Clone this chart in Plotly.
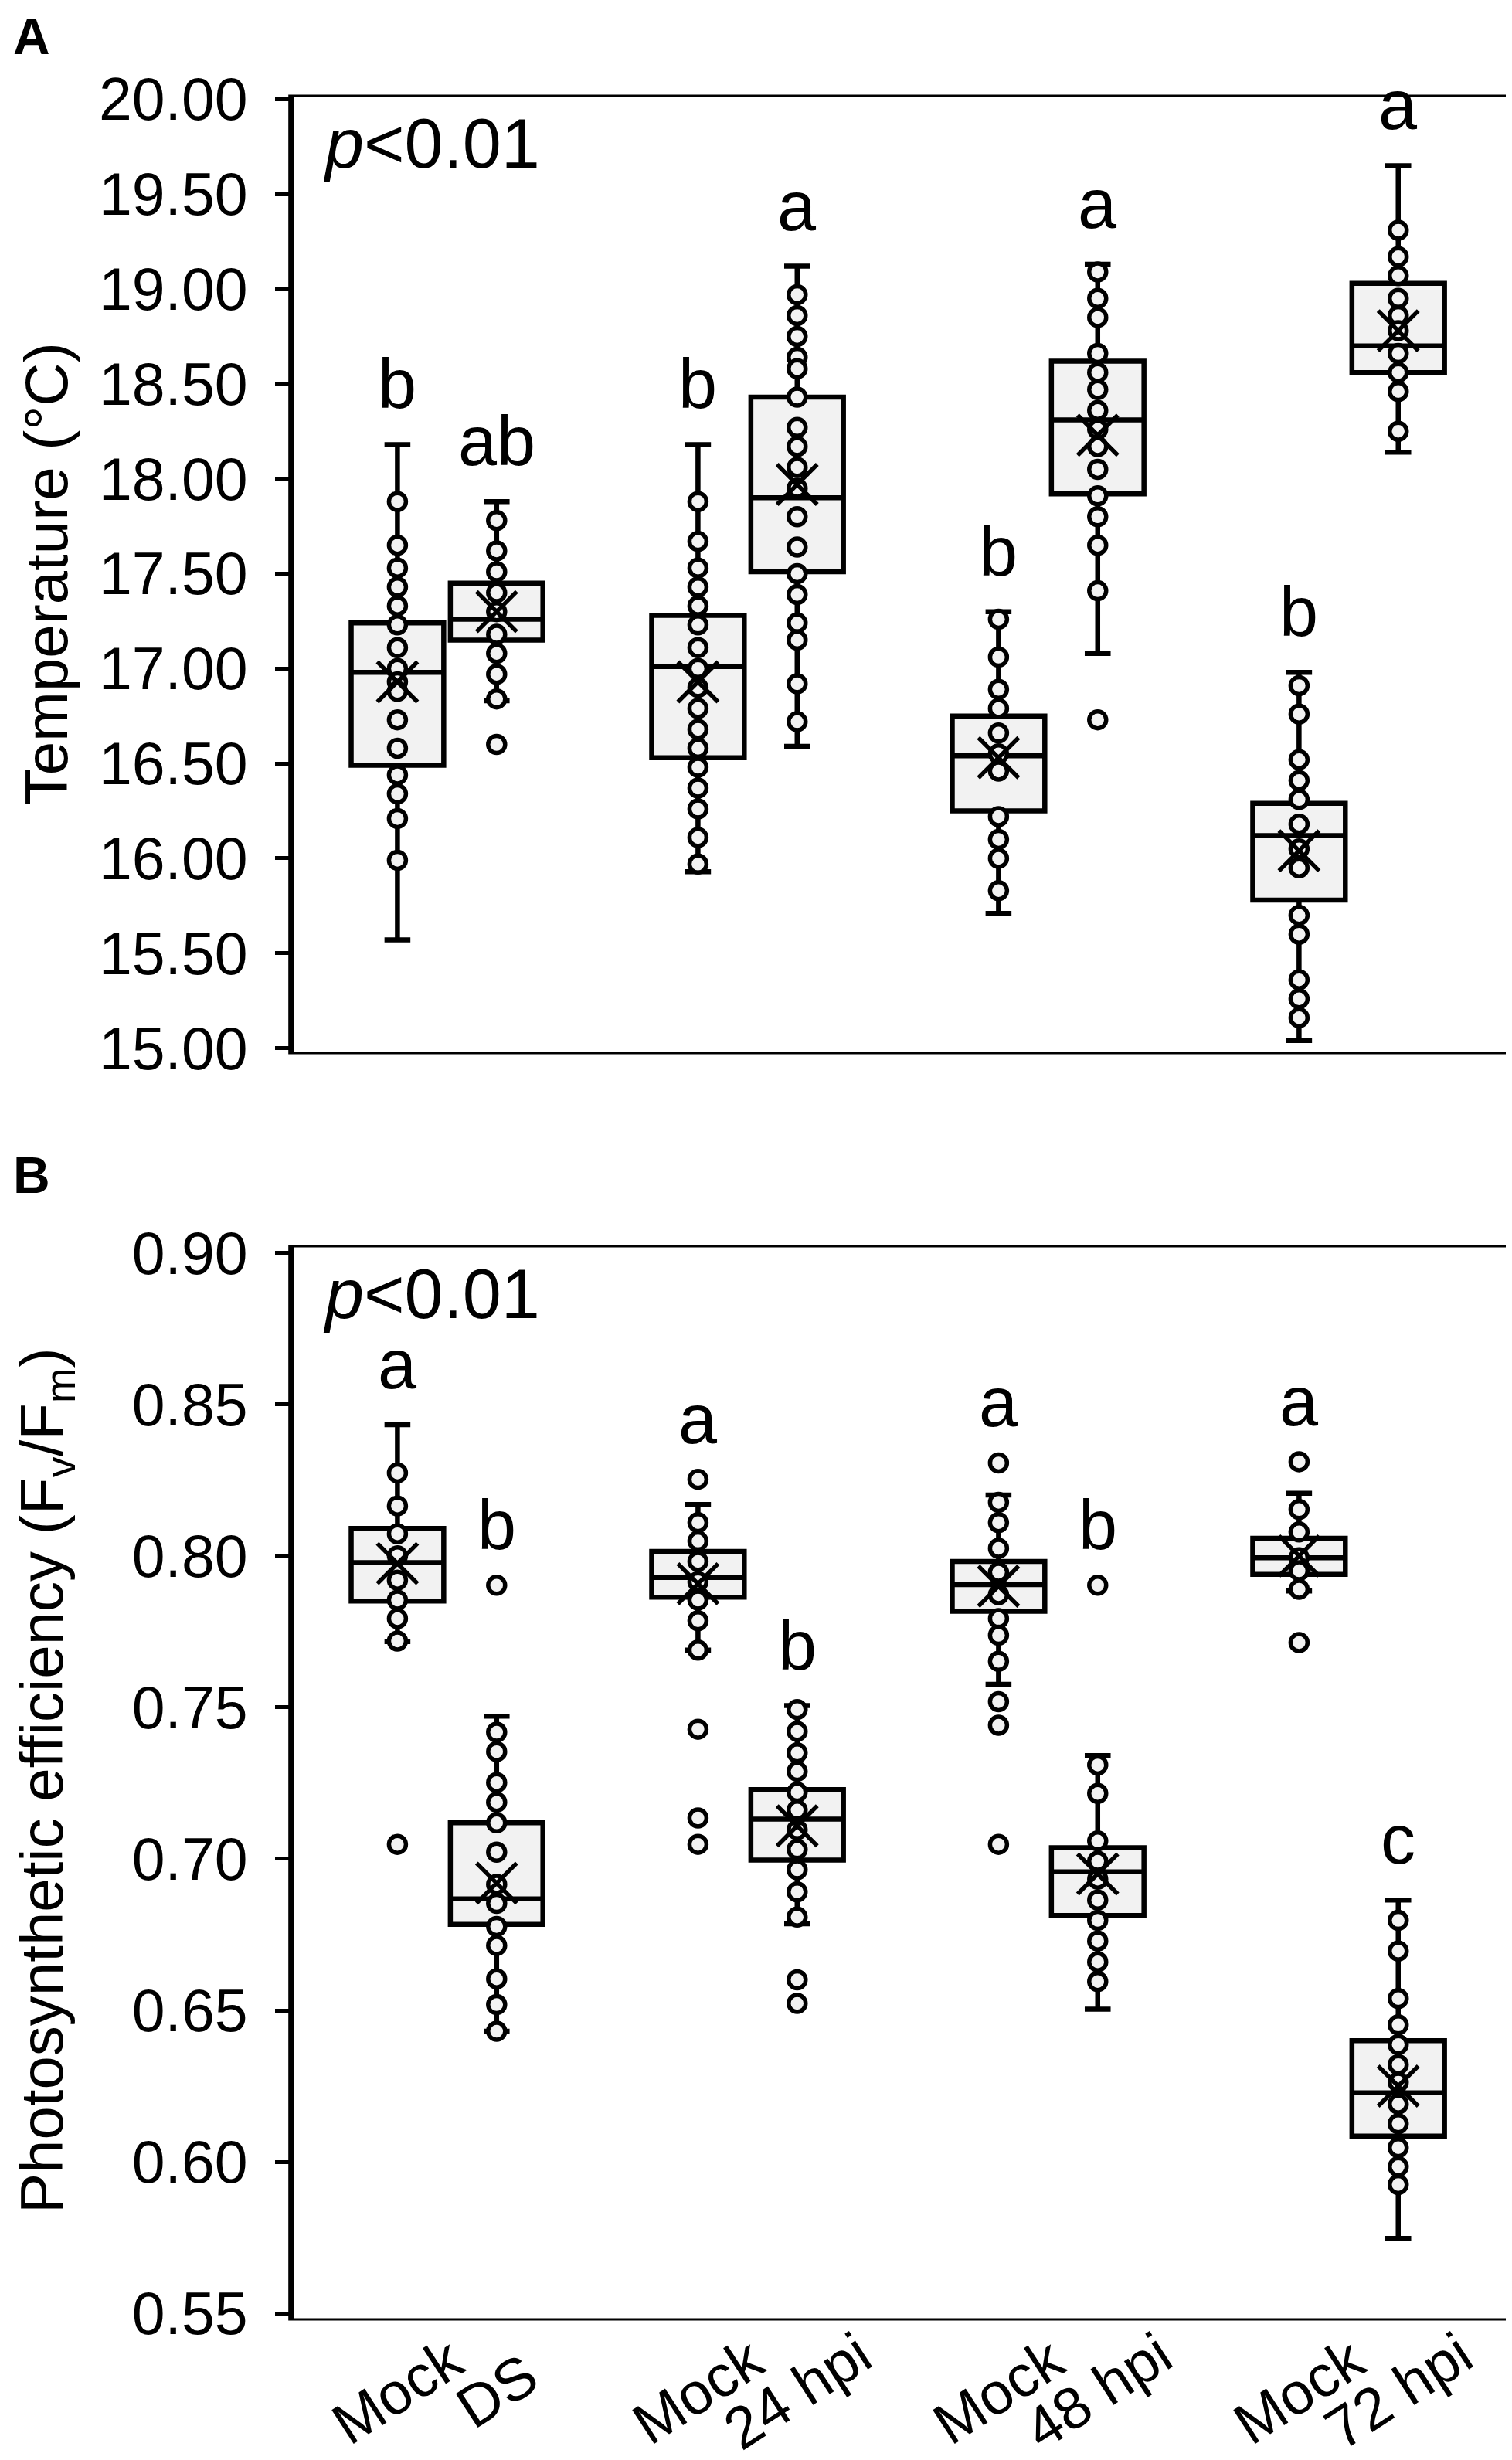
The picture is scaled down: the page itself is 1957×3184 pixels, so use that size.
import plotly.graph_objects as go

# ---------------------------
# Daten
# ---------------------------
groups = ["Mock", "DS", "Mock", "24 hpi", "Mock", "48 hpi", "Mock", "72 hpi"]
positions = [0.84, 1.17, 1.84, 2.17, 2.84, 3.17, 3.84, 4.17]

# Panel A: Temperatur (°C)
temp_points = [
    [17.88, 17.65, 17.53, 17.43, 17.33, 17.23, 17.11, 17.00, 16.93, 16.88, 16.73, 16.58, 16.44, 16.34, 16.21, 15.99],
    [17.78, 17.62, 17.51, 17.40, 17.30, 17.18, 17.08, 16.97, 16.84, 16.60],
    [17.88, 17.67, 17.53, 17.43, 17.33, 17.23, 17.11, 17.00, 16.90, 16.79, 16.68, 16.58, 16.48, 16.37, 16.26, 16.11, 15.97],
    [18.97, 18.86, 18.75, 18.64, 18.58, 18.43, 18.27, 18.17, 18.06, 17.95, 17.80, 17.64, 17.50, 17.39, 17.24, 17.15, 16.92, 16.72],
    [17.26, 17.06, 16.89, 16.79, 16.66, 16.55, 16.46, 16.22, 16.10, 16.00, 15.83],
    [19.09, 18.95, 18.85, 18.66, 18.56, 18.47, 18.36, 18.26, 18.17, 18.05, 17.91, 17.80, 17.65, 17.41, 16.73],
    [16.91, 16.76, 16.52, 16.41, 16.31, 16.18, 16.05, 15.95, 15.70, 15.60, 15.36, 15.26, 15.16],
    [19.31, 19.17, 19.07, 18.95, 18.86, 18.78, 18.66, 18.56, 18.46, 18.25],
]
temp_low = [15.57, 16.83, 15.93, 16.59, 15.71, 17.08, 15.04, 18.14]
temp_q1 = [16.49, 17.15, 16.53, 17.51, 16.25, 17.92, 15.78, 18.56]
temp_median = [16.98, 17.26, 17.01, 17.90, 16.54, 18.31, 16.12, 18.70]
temp_q3 = [17.24, 17.45, 17.28, 18.43, 16.75, 18.62, 16.29, 19.03]
temp_high = [18.18, 17.88, 18.18, 19.12, 17.30, 19.13, 16.98, 19.65]
temp_mean = [16.93, 17.30, 16.93, 17.97, 16.53, 18.23, 16.04, 18.78]
temp_letters = ["b", "ab", "b", "a", "b", "a", "b", "a"]

# Panel B: Fv/Fm
fvfm_points = [
    [0.8274, 0.8165, 0.8073, 0.8000, 0.7920, 0.7854, 0.7793, 0.7719, 0.7048],
    [0.7903, 0.7418, 0.7354, 0.7252, 0.7187, 0.7119, 0.7022, 0.6916, 0.6853, 0.6777, 0.6714, 0.6604, 0.6519, 0.6431],
    [0.8253, 0.8110, 0.8049, 0.7982, 0.7915, 0.7854, 0.7786, 0.7689, 0.7428, 0.7135, 0.7048],
    [0.7493, 0.7421, 0.7350, 0.7289, 0.7220, 0.7161, 0.7096, 0.7031, 0.6964, 0.6891, 0.6808, 0.6601, 0.6523],
    [0.8307, 0.8177, 0.8110, 0.8025, 0.7946, 0.7872, 0.7793, 0.7738, 0.7652, 0.7519, 0.7441, 0.7048],
    [0.7903, 0.7310, 0.7216, 0.7059, 0.6992, 0.6933, 0.6864, 0.6797, 0.6729, 0.6660, 0.6595],
    [0.8311, 0.8153, 0.8079, 0.7994, 0.7951, 0.7890, 0.7714],
    [0.6797, 0.6696, 0.6539, 0.6452, 0.6387, 0.6321, 0.6263, 0.6191, 0.6126, 0.6047, 0.5984, 0.5925],
]
fvfm_low = [0.7717, 0.6431, 0.7689, 0.6786, 0.7576, 0.6504, 0.7884, 0.5747]
fvfm_q1 = [0.7851, 0.6784, 0.7864, 0.6996, 0.7817, 0.6813, 0.7939, 0.6085]
fvfm_median = [0.7978, 0.6868, 0.7929, 0.7131, 0.7905, 0.6957, 0.7994, 0.6228]
fvfm_q3 = [0.8091, 0.7119, 0.8015, 0.7229, 0.7982, 0.7037, 0.8058, 0.6400]
fvfm_high = [0.8433, 0.7471, 0.8170, 0.7506, 0.8201, 0.7341, 0.8207, 0.6864]
fvfm_mean = [0.7975, 0.6920, 0.7908, 0.7109, 0.7900, 0.6950, 0.8000, 0.6250]
fvfm_letters = ["a", "b", "a", "b", "a", "b", "a", "c"]

FONT = "Liberation Sans, Arial, sans-serif"
FILL = "#f2f2f2"


def add_panel(fig, xa, ya, points, low, q1, med, q3, high, mean, letters):
    fig.add_trace(go.Box(
        x=positions, q1=q1, median=med, q3=q3, lowerfence=low, upperfence=high,
        width=0.308, whiskerwidth=0.28, fillcolor=FILL,
        line=dict(color="black", width=6.5), boxpoints=False,
        showlegend=False, xaxis=xa, yaxis=ya, hoverinfo="skip"))
    xs, ys = [], []
    for p, vals in zip(positions, points):
        xs += [p] * len(vals)
        ys += vals
    fig.add_trace(go.Scatter(
        x=xs, y=ys, mode="markers", showlegend=False, xaxis=xa, yaxis=ya,
        marker=dict(symbol="circle", size=22, color=FILL,
                    line=dict(color="black", width=5.5))))
    fig.add_trace(go.Scatter(
        x=positions, y=mean, mode="markers", showlegend=False, xaxis=xa, yaxis=ya,
        marker=dict(symbol="x-thin", size=52, color="black",
                    line=dict(color="black", width=5.5))))
    for p, vals, hi, lab in zip(positions, points, high, letters):
        fig.add_annotation(x=p, y=max(max(vals), hi), xref=xa, yref=ya,
                           text=lab, showarrow=False, xanchor="center",
                           yanchor="bottom", yshift=26,
                           font=dict(size=90, color="black", family=FONT))


fig = go.Figure()
add_panel(fig, "x", "y", temp_points, temp_low, temp_q1, temp_median, temp_q3,
          temp_high, temp_mean, temp_letters)
add_panel(fig, "x2", "y2", fvfm_points, fvfm_low, fvfm_q1, fvfm_median, fvfm_q3,
          fvfm_high, fvfm_mean, fvfm_letters)

xcommon = dict(range=[0.497, 4.546], showticklabels=False, ticks="", showline=False,
               zeroline=False, showgrid=False)
ycommon = dict(ticks="outside", ticklen=20, tickwidth=5, tickcolor="black",
               showline=True, linewidth=5, linecolor="black", showgrid=False,
               zeroline=False, tickformat=".2f", ticklabelstandoff=20,
               tickfont=dict(size=77, color="black", family=FONT))

fig.update_layout(
    width=1957, height=3184,
    margin=dict(l=373, r=9, t=116, b=190),
    plot_bgcolor="white", paper_bgcolor="white",
    xaxis=dict(anchor="y", **xcommon),
    xaxis2=dict(anchor="y2", **xcommon),
    yaxis=dict(domain=[0.5695, 1.0], range=[14.974, 20.018], dtick=0.5, tick0=15,
               anchor="x", **ycommon),
    yaxis2=dict(domain=[0.0, 0.4826], range=[0.548, 0.9022], dtick=0.05, tick0=0.55,
                anchor="x2", **ycommon),
)

# Rahmen um die Plotflächen
for xr, yr in [("x domain", "y domain"), ("x2 domain", "y2 domain")]:
    fig.add_shape(type="rect", xref=xr, yref=yr, x0=-0.004, x1=1, y0=0, y1=1,
                  line=dict(color="black", width=3))

# Beschriftungen
for lab, yp in [("<b>A</b>", 1.0268), ("<b>B</b>", 0.5146)]:
    fig.add_annotation(x=-0.2159, y=yp, xref="paper", yref="paper", text=lab,
                       showarrow=False, xanchor="center", yanchor="middle",
                       font=dict(size=66, color="black", family=FONT))
for yp in [0.9783, 0.4611]:
    fig.add_annotation(x=0.0222, y=yp, xref="paper", yref="paper",
                       text="<i>p</i>&lt;0.01", showarrow=False, xanchor="left",
                       yanchor="middle",
                       font=dict(size=90, color="black", family=FONT))
fig.add_annotation(x=-0.2038, y=0.7848, xref="paper", yref="paper",
                   text="Temperature (°C)", textangle=-90, showarrow=False,
                   xanchor="center", yanchor="middle",
                   font=dict(size=78, color="black", family=FONT))
fig.add_annotation(x=-0.2038, y=0.2422, xref="paper", yref="paper",
                   text="Photosynthetic efficiency (F<sub>v</sub>/F<sub>m</sub>)",
                   textangle=-90, showarrow=False, xanchor="center", yanchor="middle",
                   font=dict(size=78, color="black", family=FONT))

# Kategorien unter Panel B
for i, (p, lab) in enumerate(zip(positions, groups)):
    fig.add_annotation(x=p, y=0, xref="x2", yref="paper", text=lab, textangle=-33,
                       showarrow=False, xanchor="center", yanchor="middle",
                       yshift=-92,
                       font=dict(size=76, color="black", family=FONT))

fig.write_html("out.html")
